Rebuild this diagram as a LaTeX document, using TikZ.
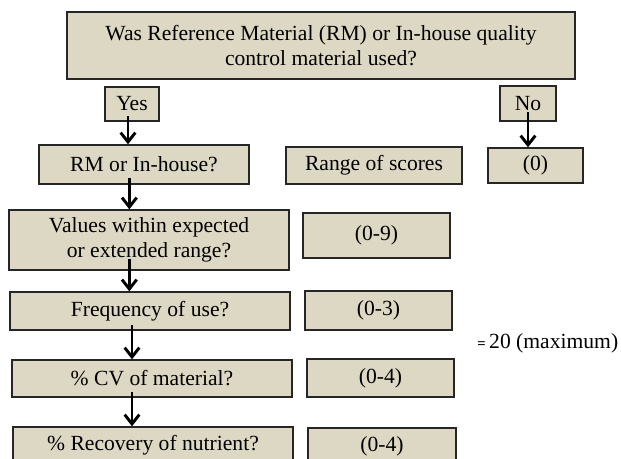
\documentclass[tikz,border=0pt]{standalone}
\usepackage{fontspec}
\setmainfont{Liberation Serif}
\usetikzlibrary{arrows.meta}
\definecolor{qtan}{HTML}{DDD8C4}
\definecolor{qedge}{HTML}{262626}
\tikzset{
  x=0.75pt, y=-0.75pt,
  font=\fontsize{16.2}{18.5}\selectfont,
  box/.style 2 args={
    draw=qedge, fill=qtan, line width=1pt, inner sep=0pt, align=center,
    minimum width=#1*0.75pt, minimum height=#2*0.75pt
  },
  arr/.style={-{Straight Barb[length=7pt,width=11pt]}, line width=2.2pt}
}
\begin{document}
\begin{tikzpicture}
  \useasboundingbox (0,0) rectangle (621,459);
  % question and answers
  \node[box={508}{67}] (q) at (321,45.5)
    {Was Reference Material (RM) or In-house quality\\control material used?};
  \node[box={54}{34}] (yes) at (132,104) {Yes};
  \node[box={56}{35}] (no) at (528,103.5) {No};
  % left column
  \node[box={210}{39}] (rm) at (144,164.5) {RM or In-house?};
  \node[box={280}{60}] (vals) at (149,240) {Values within expected\\or extended range?};
  \node[box={280}{38}] (freq) at (150,311) {Frequency of use?};
  \node[box={280}{37}] (cv) at (152,378.5) {\% CV of material?};
  \node[box={280}{37}] (rec) at (153,445.5) {\% Recovery of nutrient?};
  % scores
  \node[box={176}{37}] (range) at (374,165.5) {Range of scores};
  \node[box={95}{35}] (zero) at (535.5,165.5) {(0)};
  \node[box={147}{45}] (s9) at (376.5,235.5) {(0-9)};
  \node[box={147}{39}] (s3) at (378.5,310.5) {(0-3)};
  \node[box={147}{38}] (s4a) at (380.5,378) {(0-4)};
  \node[box={148}{37}] (s4b) at (382,446.5) {(0-4)};
  \node[anchor=west, inner sep=0pt] (total) at (477,343)
    {{\fontsize{11}{11}\selectfont\bfseries =}\,20 (maximum)};
  % arrows
  \draw[arr] ([xshift=-3pt,yshift=4pt]yes.south) -- ([xshift=-3pt]yes.south |- rm.north);
  \draw[arr] ([yshift=7pt]no.south) -- (no.south |- zero.north);
  \draw[arr] ([xshift=-2pt,yshift=5pt]rm.south -| yes.south) -- ([xshift=-2pt]yes.south |- vals.north);
  \draw[arr] ([xshift=-2pt,yshift=9pt]vals.south -| yes.south) -- ([xshift=-2pt]yes.south |- freq.north);
  \draw[arr] ([yshift=4pt]freq.south -| yes.south) -- (yes.south |- cv.north);
  \draw[arr] ([yshift=4pt]cv.south -| yes.south) -- (yes.south |- rec.north);
\end{tikzpicture}
\end{document}
